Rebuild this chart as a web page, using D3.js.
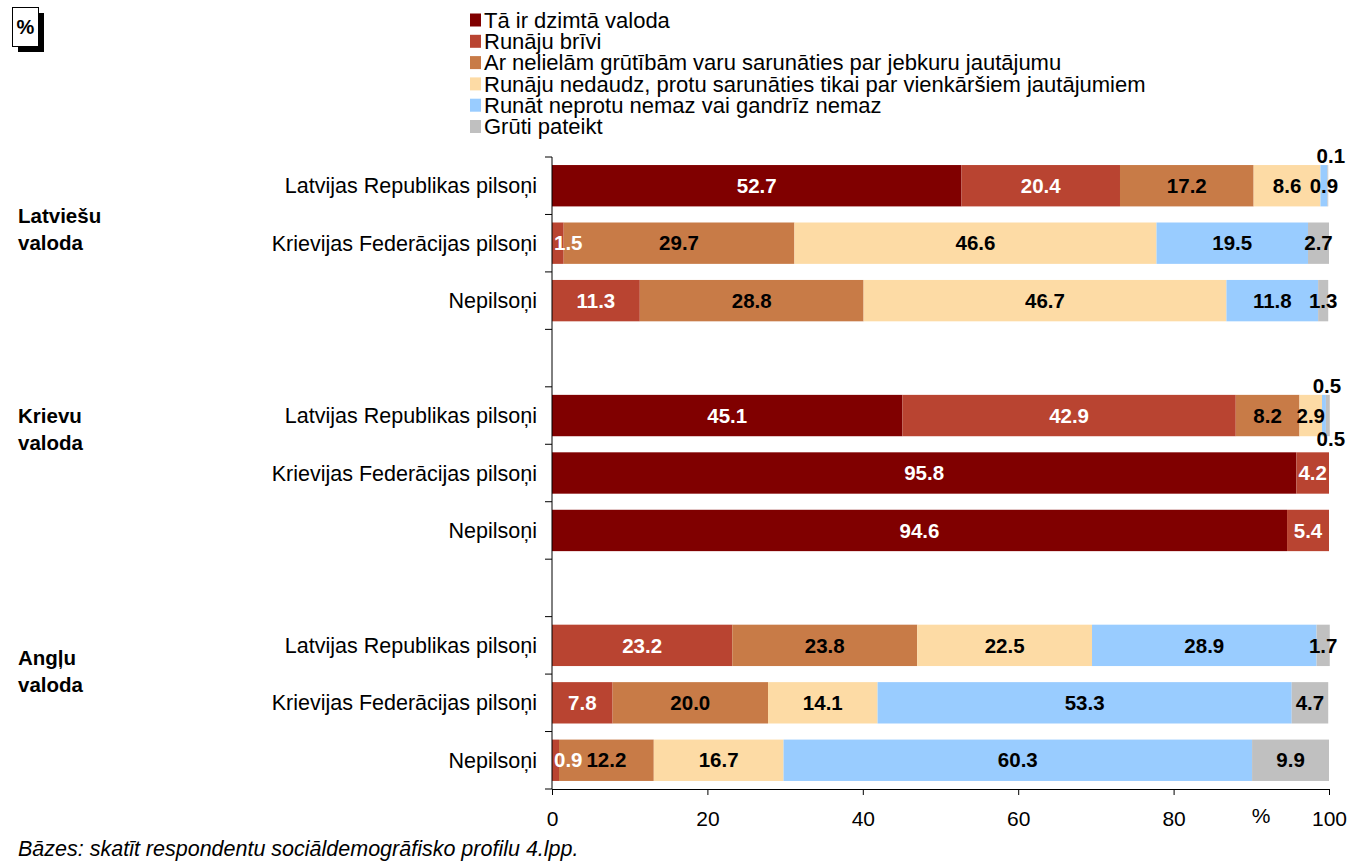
<!DOCTYPE html>
<html>
<head>
<meta charset="utf-8">
<script src="https://cdn.jsdelivr.net/npm/d3@7"></script>
<style>
  body { margin: 0; background: #fff; }
  svg { display: block; font-family: Arial, "Liberation Sans", sans-serif; }
</style>
</head>
<body>
<div id="chart"></div>
<script>
// Data

const series = [
  "Tā ir dzimtā valoda",
  "Runāju brīvi",
  "Ar nelielām grūtībām varu sarunāties par jebkuru jautājumu",
  "Runāju nedaudz, protu sarunāties tikai par vienkāršiem jautājumiem",
  "Runāt neprotu nemaz vai gandrīz nemaz",
  "Grūti pateikt"
];
const colors = ["#800000", "#B94431", "#C87B47", "#FDDBA5", "#99CCFF", "#C0C0C0"];
const whiteText = [true, true, false, false, false, false];

const groups = ["Latviešu valoda", "Krievu valoda", "Angļu valoda"];
const rowLabels = ["Latvijas Republikas pilsoņi", "Krievijas Federācijas pilsoņi", "Nepilsoņi"];

const latvianValues = [
  [52.7, 20.4, 17.2, 8.6, 0.9, 0.1],
  [0, 1.5, 29.7, 46.6, 19.5, 2.7],
  [0, 11.3, 28.8, 46.7, 11.8, 1.3]
];
const russianValues = [
  [45.1, 42.9, 8.2, 2.9, 0.5, 0.5],
  [95.8, 4.2, 0, 0, 0, 0],
  [94.6, 5.4, 0, 0, 0, 0]
];
const englishValues = [
  [0, 23.2, 23.8, 22.5, 28.9, 1.7],
  [0, 7.8, 20.0, 14.1, 53.3, 4.7],
  [0, 0.9, 12.2, 16.7, 60.3, 9.9]
];
const groupValues = [latvianValues, russianValues, englishValues];
const xTicks = [0, 20, 40, 60, 80, 100];

// Layout

const W = 1350, H = 862;
const plot = { left: 552, right: 1329, top: 157, bottom: 789 };
const groupLabelOffset = [30, 0, 12];

const svg = d3.select("#chart").append("svg")
  .attr("width", W)
  .attr("height", H);

// Rows: 3 groups of 3 bars with an empty slot between groups

const rows = [];
const slots = [];
groupValues.forEach((vals, g) => {
  if (g > 0) slots.push("gap" + g);
  vals.forEach((v, r) => {
    const key = "g" + g + "r" + r;
    slots.push(key);
    const row = { key, group: g, label: rowLabels[r] };
    series.forEach((s, i) => row[s] = v[i]);
    rows.push(row);
  });
});

const x = d3.scaleLinear().domain([0, 100]).range([plot.left, plot.right]);
const y = d3.scaleBand().domain(slots).range([plot.top, plot.bottom])
  .paddingInner(0.28).paddingOuter(0.14);

const stacked = d3.stack().keys(series)(rows);

// Bars

stacked.forEach((layer, i) => {
  svg.append("g")
    .selectAll("rect")
    .data(layer.filter(d => d[1] - d[0] > 0))
    .join("rect")
    .attr("x", d => x(d[0]))
    .attr("y", d => y(d.data.key))
    .attr("width", d => x(d[1]) - x(d[0]))
    .attr("height", y.bandwidth())
    .attr("fill", colors[i]);
});

// Axes

svg.append("line")
  .attr("x1", plot.left).attr("x2", plot.left)
  .attr("y1", plot.top).attr("y2", plot.bottom)
  .attr("stroke", "#000");

svg.selectAll(".ytick")
  .data(d3.range(slots.length + 1))
  .join("line")
  .attr("x1", plot.left - 7).attr("x2", plot.left)
  .attr("y1", i => plot.top + i * y.step())
  .attr("y2", i => plot.top + i * y.step())
  .attr("stroke", "#000");

const xAxis = svg.append("g")
  .attr("transform", `translate(0,${plot.bottom})`)
  .call(d3.axisBottom(x).tickValues(xTicks).tickSize(6).tickSizeOuter(0));
xAxis.select(".domain").attr("stroke", "#000");
xAxis.selectAll(".tick line").attr("stroke", "#000");
xAxis.selectAll(".tick text")
  .attr("y", 30).attr("dy", "0.35em")
  .style("font-size", "21px")
  .style("font-family", "Arial, 'Liberation Sans', sans-serif")
  .attr("fill", "#000");

svg.append("text")
  .attr("x", 1261).attr("y", 816).attr("dy", "0.35em")
  .attr("text-anchor", "middle")
  .style("font-size", "21px")
  .text("%");

// Row labels

svg.selectAll(".rowlabel")
  .data(rows)
  .join("text")
  .attr("x", plot.left - 15)
  .attr("y", d => y(d.key) + y.bandwidth() / 2)
  .attr("dy", "0.35em")
  .attr("text-anchor", "end")
  .style("font-size", "21.5px")
  .text(d => d.label);

// Group labels

groups.forEach((name, g) => {
  const first = y("g" + g + "r0") + y.bandwidth() / 2 + groupLabelOffset[g];
  const t = svg.append("text")
    .attr("x", 18)
    .attr("y", first)
    .style("font-size", "20.5px")
    .style("font-weight", "bold");
  name.split(" ").forEach((w, k) => {
    t.append("tspan").attr("x", 18).attr("dy", k === 0 ? "0.35em" : "1.33em").text(w);
  });
});

// Value labels

rows.forEach(row => {
  let outside = 0;
  let acc = 0;
  series.forEach((s, i) => {
    const v = row[s];
    const x0 = acc;
    acc += v;
    if (v <= 0) return;
    const cx = x((x0 + acc) / 2);
    const top = y(row.key);
    const t = svg.append("text")
      .attr("text-anchor", "middle")
      .style("font-size", "20.5px")
      .style("font-weight", "bold")
      .attr("fill", whiteText[i] ? "#fff" : "#000")
      .text(v.toFixed(1));
    if (v < 0.8) {
      const above = outside % 2 === 0;
      outside++;
      t.attr("fill", "#000")
        .attr("x", cx + 3)
        .attr("y", above ? top - 9 : top + y.bandwidth() + 3)
        .attr("dy", "0.35em");
    } else {
      t.attr("y", top + y.bandwidth() / 2).attr("dy", "0.35em");
      const w = t.node().getComputedTextLength();
      t.attr("x", Math.max(cx, plot.left + 2 + w / 2));
    }
  });
});

// Legend

const legend = svg.append("g");
series.forEach((s, i) => {
  const cy = 20 + i * 21.3;
  legend.append("rect")
    .attr("x", 470).attr("y", cy - 6.5)
    .attr("width", 11).attr("height", 13)
    .attr("fill", colors[i]);
  legend.append("text")
    .attr("x", 484).attr("y", cy).attr("dy", "0.35em")
    .style("font-size", "22px")
    .text(s);
});

// Percent box top-left

svg.append("rect")
  .attr("x", 18).attr("y", 13).attr("width", 26).attr("height", 39)
  .attr("fill", "#000");
svg.append("rect")
  .attr("x", 12.5).attr("y", 7.5).attr("width", 26).attr("height", 39)
  .attr("fill", "#fff").attr("stroke", "#000");
svg.append("text")
  .attr("x", 25.5).attr("y", 27).attr("dy", "0.35em")
  .attr("text-anchor", "middle")
  .style("font-size", "20px")
  .style("font-weight", "bold")
  .text("%");

// Footnote

svg.append("text")
  .attr("x", 18).attr("y", 848).attr("dy", "0.35em")
  .style("font-size", "21.5px")
  .style("font-style", "italic")
  .text("Bāzes: skatīt respondentu sociāldemogrāfisko profilu 4.lpp.");
</script>
</body>
</html>
